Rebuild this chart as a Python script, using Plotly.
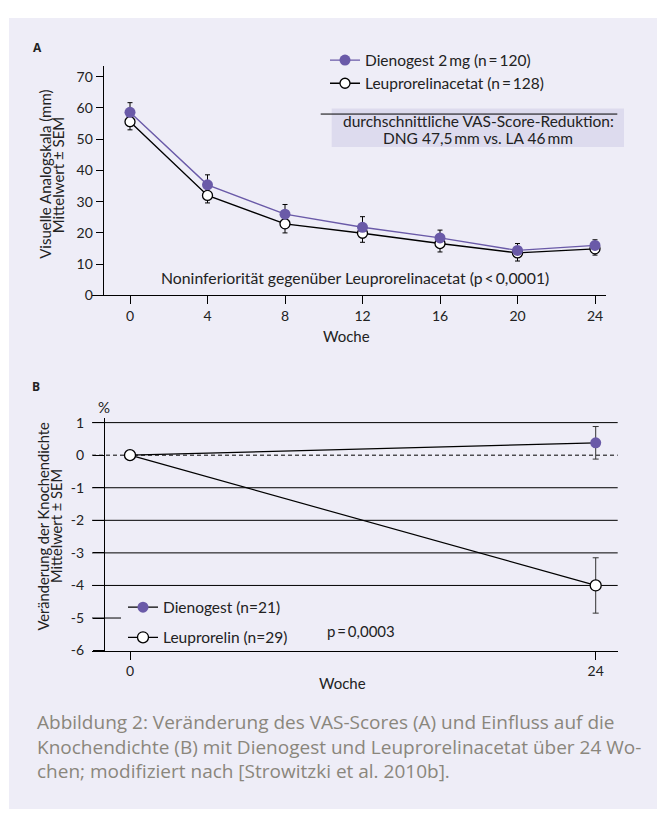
import plotly.graph_objects as go

# The page body has an 8px default margin; the figure is sized/shifted to fit the 665x825 window.
OFF = 8
W, H = 665 - OFF, 825 - 2 * OFF
def px(x): return (x - OFF) / W
def py(y): return 1 - (y - OFF) / H

# ---------- data ----------
weeks_a = [0, 4, 8, 12, 16, 20, 24]
dng_vas = [58.6, 35.4, 26.0, 21.8, 18.4, 14.4, 16.0]
dng_vas_sem = [3.1, 3.2, 3.1, 3.4, 2.5, 2.2, 1.8]
la_vas = [55.6, 32.0, 22.9, 19.9, 16.6, 13.6, 14.9]
la_vas_sem = [2.6, 2.4, 2.9, 2.9, 2.7, 2.6, 2.0]
yticks_a = [0, 10, 20, 30, 40, 50, 60, 70]

weeks_b = [0, 24]
dng_bmd = [0.0, 0.38]
dng_bmd_sem = [0.0, 0.5]
la_bmd = [0.0, -4.0]
la_bmd_sem = [0.0, 0.85]
yticks_b = [1, 0, -1, -2, -3, -4, -5, -6]
ytick_labels_b = ["1", "0", "-1", "-2", "-3", "-4", "-5", "-6"]
grid_solid_b = [1, -1, -2, -3, -4]

PURPLE = "#6a5aa8"
BG = "#eeedf7"
FONT = "Lato"
TXT = "#222"

fig = go.Figure()

# Panel A
fig.add_trace(go.Scatter(
    x=weeks_a, y=la_vas, mode="lines+markers", name="Leuprorelinacetat (n\u2009=\u2009128)",
    line=dict(color="black", width=1.4),
    marker=dict(size=10, color="white", line=dict(color="black", width=1.3)),
    error_y=dict(type="data", symmetric=False, array=[0] * 7, arrayminus=la_vas_sem,
                 color="black", thickness=1, width=2.5),
    xaxis="x", yaxis="y", legend="legend", legendrank=2, cliponaxis=False))
fig.add_trace(go.Scatter(
    x=weeks_a, y=dng_vas, mode="lines+markers", name="Dienogest 2\u2009mg (n\u2009=\u2009120)",
    line=dict(color=PURPLE, width=1.4),
    marker=dict(size=11, color=PURPLE),
    error_y=dict(type="data", symmetric=False, array=dng_vas_sem, arrayminus=[0] * 7,
                 color="black", thickness=1, width=2.5),
    xaxis="x", yaxis="y", legend="legend", legendrank=1, cliponaxis=False))

# Panel B
fig.add_trace(go.Scatter(
    x=weeks_b, y=dng_bmd, mode="lines+markers", name="Dienogest (n=21)",
    line=dict(color="black", width=1.2),
    marker=dict(size=11, color=PURPLE),
    error_y=dict(type="data", array=dng_bmd_sem, color="#333", thickness=1, width=3),
    xaxis="x2", yaxis="y2", legend="legend2", legendrank=1, legendgroup="bd", cliponaxis=False))
fig.add_trace(go.Scatter(
    x=weeks_b, y=la_bmd, mode="lines+markers", name="Leuprorelin (n=29)",
    line=dict(color="black", width=1.2),
    marker=dict(size=11, color="white", line=dict(color="black", width=1.3)),
    error_y=dict(type="data", array=la_bmd_sem, color="#333", thickness=1, width=3),
    xaxis="x2", yaxis="y2", legend="legend2", legendrank=2, legendgroup="bl", cliponaxis=False))

tickfont = dict(family=FONT, size=14, color=TXT)
axis_common = dict(showline=True, linecolor="black", linewidth=1.2, ticks="outside",
                   tickcolor="black", tickwidth=1.2, showgrid=False, zeroline=False,
                   tickfont=tickfont, fixedrange=True)

shapes = [
    dict(type="rect", xref="paper", yref="paper", x0=px(9), x1=1, y0=0, y1=py(13),
         fillcolor=BG, line=dict(width=0), layer="below"),
    # box in panel A
    dict(type="rect", xref="paper", yref="paper", x0=px(331.7), x1=px(624), y0=py(144.3), y1=py(105),
         fillcolor="#dddbee", line=dict(width=0), layer="below"),
    dict(type="line", xref="paper", yref="paper", x0=px(320.7), x1=px(617.3), y0=py(110.7), y1=py(110.7),
         line=dict(color="black", width=1)),
]
for g in grid_solid_b:
    shapes.append(dict(type="line", xref="paper", yref="y2", x0=px(92), x1=px(617.7), y0=g, y1=g,
                       line=dict(color="black", width=1), layer="below"))
shapes.append(dict(type="line", xref="paper", yref="y2", x0=px(92), x1=px(121), y0=-5, y1=-5,
                   line=dict(color="black", width=1), layer="below"))
shapes.append(dict(type="line", xref="paper", yref="y2", x0=px(92), x1=px(617.7), y0=0, y1=0,
                   line=dict(color="black", width=1, dash="4px,3px"), layer="below"))

def ann(x, y, text, size=15.5, color=TXT, xanchor="center", angle=0, bold=False, family=FONT, align="center"):
    return dict(x=px(x), y=py(y), xref="paper", yref="paper", text=f"<b>{text}</b>" if bold else text,
                showarrow=False, xanchor=xanchor, yanchor="middle", textangle=angle, align=align,
                font=dict(family=family, size=size, color=color))

cap_col = "#8a867c"
caption = ("Abbildung 2: Ver\u00e4nderung des VAS-Scores (A) und Einfluss auf die<br>"
           "Knochendichte (B) mit Dienogest und Leuprorelinacetat \u00fcber 24 Wo-<br>"
           "chen; modifiziert nach [Strowitzki et al. 2010b].")
annotations = [
    ann(37, 43, "A", size=12, bold=True, family="Open Sans"),
    ann(36, 388, "B", size=12, bold=True, family="Open Sans"),
    ann(45, 172.5, "Visuelle Analogskala (mm)", size=15, angle=-90),
    ann(57.5, 172.5, "Mittelwert \u00b1 SEM", size=15, angle=-90),
    ann(346, 336, "Woche", size=15),
    ann(478, 118, "durchschnittliche VAS-Score-Reduktion:"),
    ann(478, 135, "DNG 47,5\u2009mm vs. LA 46\u2009mm"),
    ann(355, 277, "Noninferiorit\u00e4t gegen\u00fcber Leuprorelinacetat (p\u2009<\u20090,0001)", size=15.8),
    ann(104, 408, "%", size=15),
    ann(43, 530, "Ver\u00e4nderung der Knochendichte", size=14.7, angle=-90),
    ann(55.5, 530, "Mittelwert \u00b1 SEM", size=14.7, angle=-90),
    ann(342, 689, "Woche", size=15),
    ann(325, 636.5, "p\u2009=\u20090,0003", size=15, xanchor="left"),
    ann(35, 753, caption, size=19, color=cap_col, xanchor="left", align="left", family="Open Sans"),
]

ppw_a = (595 - 130) / 24
ppw_b = (595.7 - 130) / 24
legend_font = dict(family=FONT, size=15.5, color=TXT)
fig.update_layout(
    width=W, height=H, margin=dict(l=0, r=0, t=0, b=0),
    paper_bgcolor="white", plot_bgcolor="rgba(0,0,0,0)",
    font=dict(family=FONT, size=14, color=TXT),
    xaxis=dict(domain=[px(92), px(606)], range=[(92 - 130) / ppw_a, (606 - 130) / ppw_a],
               anchor="y", tickvals=weeks_a, ticktext=[str(w) for w in weeks_a], ticklen=8,
               **axis_common),
    yaxis=dict(domain=[py(295), py(62.3)], range=[0, 73.3], anchor="free", position=px(102.7),
               tickvals=yticks_a, ticktext=[str(v) for v in yticks_a], ticklen=7, **axis_common),
    xaxis2=dict(domain=[px(92), px(617.7)], range=[(92 - 130) / ppw_b, (617.7 - 130) / ppw_b],
                anchor="y2", tickvals=weeks_b, ticktext=[str(w) for w in weeks_b], ticklen=8,
                **axis_common),
    yaxis2=dict(domain=[py(656), py(420)], range=[-6, 1.13], anchor="free", position=px(104),
                tickvals=yticks_b, ticktext=ytick_labels_b, ticklen=11, ticklabelstandoff=6,
                **axis_common),
    legend=dict(x=px(325), y=py(39), xanchor="left", yanchor="top", bgcolor="rgba(0,0,0,0)",
                font=legend_font, itemwidth=30, tracegroupgap=0),
    legend2=dict(x=px(123), y=py(595), xanchor="left", yanchor="top", bgcolor="rgba(0,0,0,0)",
                 font=legend_font, itemwidth=30, tracegroupgap=7),
    shapes=shapes, annotations=annotations, showlegend=True,
)

fig.write_html("out.html")
